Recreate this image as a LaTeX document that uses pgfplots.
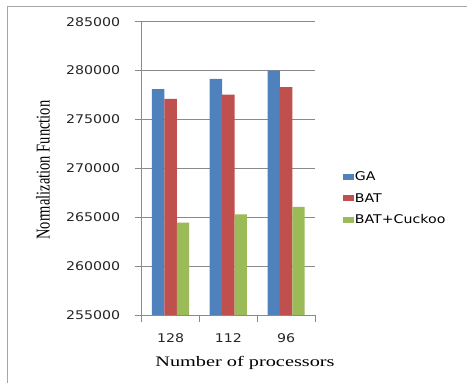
\documentclass[border=0pt]{standalone}
\usepackage{fontspec}
\usepackage{pgfplots}
\pgfplotsset{compat=1.18}
\newfontfamily\ticksfont{DejaVu Sans}[FakeStretch=1.18]
\newfontfamily\xlabfont{Liberation Serif}[FakeStretch=1.4]
\newfontfamily\ylabfont{Liberation Serif}
\definecolor{gablue}{HTML}{4F81BD}
\definecolor{batred}{HTML}{C0504D}
\definecolor{cuckoogreen}{HTML}{9BBB59}
\definecolor{axisgray}{HTML}{8A8A8A}
\definecolor{framegray}{HTML}{A6A6A6}

\begin{document}
\begin{tikzpicture}[x=1pt,y=1pt]
\useasboundingbox (0,0) rectangle (467,383);
% outer chart frame
\draw[framegray, line width=1pt] (7,0) -- (7,376) -- (467,376);
\begin{axis}[
  at={(141.7pt,68pt)}, anchor=south west,
  scale only axis, width=173.3pt, height=293.3pt,
  xmin=-0.5, xmax=2.5, ymin=255000, ymax=285000,
  ytick={255000,260000,265000,270000,275000,280000,285000},
  scaled y ticks=false,
  /pgf/number format/.cd, fixed, 1000 sep={}, assume math mode=true, /pgfplots/.cd,
  axis x line*=bottom, axis y line*=left,
  axis line style={axisgray, line width=0.8pt, -},
  ymajorgrids, major grid style={axisgray, line width=0.8pt},
  tick align=outside, major tick length=7pt,
  tick style={axisgray, line width=0.8pt},
  xtick={-0.5,0.5,1.5,2.5}, xticklabels={},
  extra x ticks={0,1,2}, extra x tick labels={128,112,96},
  extra x tick style={tick style={draw=none}, xticklabel style={yshift=-8pt}},
  tick label style={font=\ticksfont\fontsize{12}{14}\selectfont, text=black!85},
  yticklabel style={xshift=-11pt},
  ybar=0pt, bar width=12.4pt,
  xlabel={Number of processors},
  xlabel style={font=\xlabfont\fontsize{14.5}{16}\selectfont, at={(rel axis cs:0.596,-0.162)}, anchor=center},
  ylabel={\scalebox{1}[1.35]{\ylabfont\fontsize{14.5}{16}\selectfont Normalization Function}},
  ylabel style={at={(rel axis cs:-0.57,0.494)}, anchor=center},
  legend style={at={(rel axis cs:1.16,0.492)}, anchor=north west, draw=none, fill=none,
    font=\ticksfont\fontsize{12}{14}\selectfont, row sep=9pt, inner sep=0pt,
    nodes={inner sep=1pt, anchor=west}},
  legend image code/.code={\fill[#1] (0pt,-3pt) rectangle (11pt,3pt);},
  legend cell align=left,
]
\addplot[fill=gablue, draw=none] coordinates {(0,278100) (1,279150) (2,280000)};
\addlegendentry{GA}
\addplot[fill=batred, draw=none] coordinates {(0,277100) (1,277550) (2,278300)};
\addlegendentry{BAT}
\addplot[fill=cuckoogreen, draw=none] coordinates {(0,264450) (1,265300) (2,266050)};
\addlegendentry{BAT+Cuckoo}
\end{axis}
\end{tikzpicture}
\end{document}
